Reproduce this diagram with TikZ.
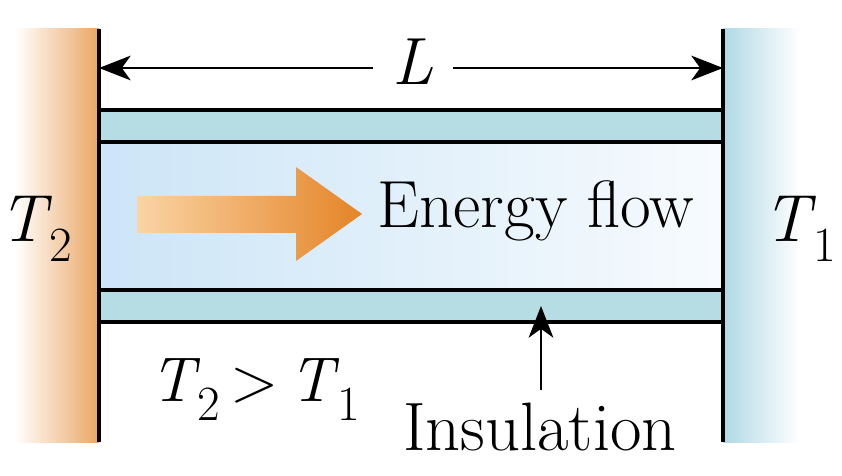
\documentclass[tikz,border=0pt]{standalone}
\usetikzlibrary{arrows.meta}

\definecolor{warm}{RGB}{234,166,100}
\definecolor{kalt}{RGB}{176,216,228}
\definecolor{isol}{RGB}{182,220,228}
\definecolor{innen}{RGB}{204,229,247}
\definecolor{flusshell}{RGB}{250,212,164}
\definecolor{flussdunkel}{RGB}{228,132,40}

\newcommand{\tsub}[1]{\textit{T}\kern-0.04em\raisebox{-0.3em}{\fontsize{28}{30}\selectfont #1}}

\tikzset{
	wand/.style={line width=1.8pt},
	beschr/.style={font=\fontsize{38}{40}\selectfont, inner sep=2pt},
	pfeil/.style={line width=1.7pt, -{Stealth[length=18pt, width=14pt, inset=5pt]}}
}

\begin{document}
\begin{tikzpicture}[x=0.02cm, y=-0.02cm]
	\useasboundingbox (0,0) rectangle (842,476);
	% Waende
	\shade[left color=white, right color=warm] (15,29) rectangle (99,442);
	\shade[left color=kalt, right color=white] (723,29) rectangle (800,442);
	% Stab innen
	\shade[left color=innen, right color=innen!15] (99,142) rectangle (723,290);
	% Isolierung
	\foreach \y in {110,290}
		\filldraw[wand, fill=isol] (99,\y) rectangle (723,\y+32);
	\draw[wand] (99,29) -- (99,442);
	\draw[wand] (723,29) -- (723,442);
	% Energiefluss
	\shade[left color=flusshell, right color=flussdunkel] (137,196) -- (296,196)
	-- (296,167) -- (362,214) -- (296,261) -- (296,233) -- (137,233) -- cycle;
	\node[beschr, font=\fontsize{38}{40}\selectfont] (flow) at (536,211) {Energy flow};
	% Laenge
	\coordinate (links) at (99,68);
	\coordinate (rechts) at (723,68);
	\node[beschr, inner sep=11pt] (len) at (413,62) {\textit{L}};
	\draw[pfeil] (len.west |- links) -- (links);
	\draw[pfeil] (len.east |- rechts) -- (rechts);
	% Temperaturen
	\node[beschr] (t2) at (36,229) {\tsub{2}};
	\node[beschr] (t1) at (800,229) {\tsub{1}};
	\node[beschr, font=\fontsize{36}{40}\selectfont] (vgl) at (255,390) {\tsub{2}\,\textgreater\,\tsub{1}};
	% Isolierung Beschriftung
	\node[beschr, font=\fontsize{39}{40}\selectfont] (isol) at (540,427) {Insulation};
	\coordinate (isolziel) at (541,306);
	\draw[pfeil] (541,390) -- (isolziel);
\end{tikzpicture}
\end{document}
